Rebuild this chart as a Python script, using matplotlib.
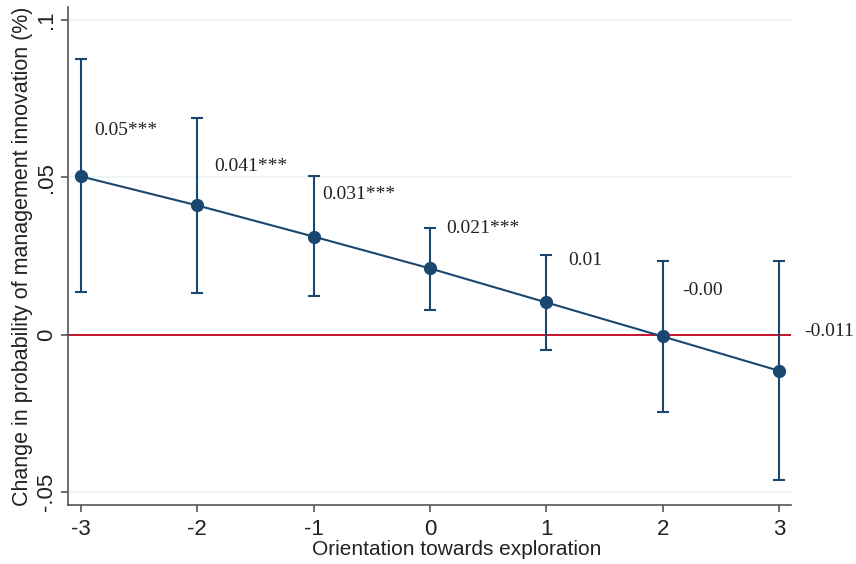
import numpy as np
import matplotlib
matplotlib.use("Agg")
from matplotlib import pyplot as plt

# data
orient = [-3, -2, -1, 0, 1, 2, 3]
effect = [0.0503, 0.0411, 0.0312, 0.0211, 0.0103, -0.0005, -0.0114]
ci_low = [0.0136, 0.0132, 0.0125, 0.0079, -0.0048, -0.0244, -0.0461]
ci_high = [0.0876, 0.0690, 0.0503, 0.0338, 0.0255, 0.0233, 0.0233]
labels = ["0.05***", "0.041***", "0.031***", "0.021***", "0.01", "-0.00", "-0.011"]
yticks = [-0.05, 0, 0.05, 0.1]
ytick_labels = ["-.05", "0", ".05", ".1"]

# label offsets from each point, in pixels (dx right, dy up)
label_off = [(13, 46), (17, 39), (9, 42), (16, 40), (22, 42), (20, 46), (25, 39)]

navy = "#1a476f"
red = "#c8102e"

plt.rcParams['font.family'] = ['Liberation Sans', 'DejaVu Sans']

fig = plt.figure(figsize=(8.56, 5.64), dpi=100)
ax = fig.add_axes([0.0794, 0.1041, 0.9237 - 0.0794, 0.9876 - 0.1041])

for y in yticks:
    ax.axhline(y, color="#eaf2f3", lw=1.2, zorder=0)
ax.axhline(0, color=red, lw=1.4, zorder=1)

x = np.array(orient)
e = np.array(effect)
err = [e - np.array(ci_low), np.array(ci_high) - e]
ax.errorbar(x, e, yerr=err, fmt="none", ecolor=navy, elinewidth=1.5,
            capsize=4, capthick=1.5, zorder=2)
ax.plot(x, e, color=navy, lw=1.5, marker="o", markersize=8.5, zorder=3)

for xi, yi, txt, (dx, dy) in zip(orient, effect, labels, label_off):
    ax.annotate(txt, (xi, yi), xytext=(dx * 0.72, dy * 0.72), textcoords="offset points",
                ha="left", va="center", fontsize=14, family="Liberation Serif",
                color="#222222", annotation_clip=False)

ax.set_xlim(-3.112, 3.10)
ax.set_ylim(-0.0541, 0.1041)
ax.set_xticks(orient)
ax.set_xticklabels([str(v) for v in orient])
ax.set_yticks(yticks)
ax.set_yticklabels(ytick_labels, rotation=90, va="center")

for s in ["top", "right"]:
    ax.spines[s].set_visible(False)
for s in ["left", "bottom"]:
    ax.spines[s].set_color("#555555")
    ax.spines[s].set_linewidth(1.2)
ax.tick_params(axis="both", length=5, width=1.2, color="#555555", labelsize=16, labelcolor="#222222")
ax.tick_params(axis="x", pad=5)
ax.tick_params(axis="y", pad=3)

ax.set_xlabel("Orientation towards exploration", fontsize=15, color="#222222")
ax.xaxis.set_label_coords(0.538, -0.0897)
ax.xaxis.label.set_va("center")
ax.set_ylabel("Change in probability of management innovation (%)", fontsize=15.5,
              color="#222222", labelpad=2)

fig.savefig("out.png", dpi=100, facecolor="white")
